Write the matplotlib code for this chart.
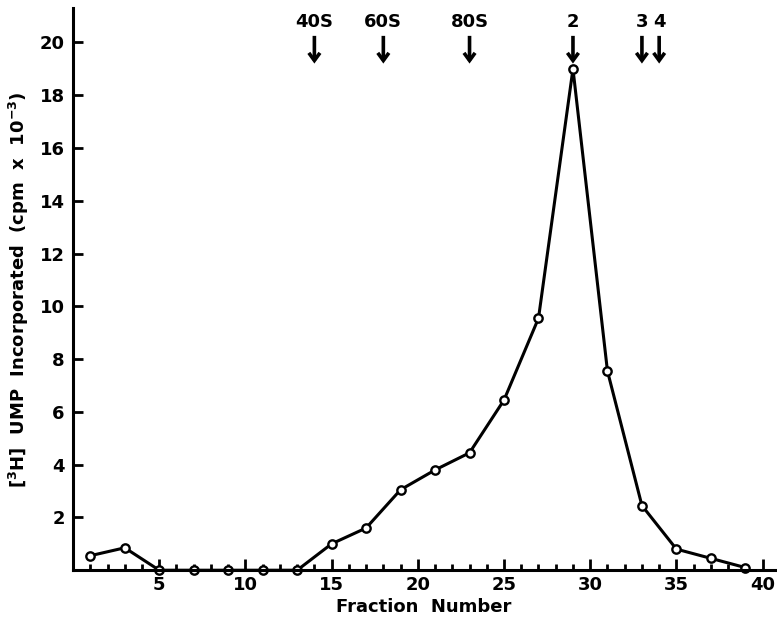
import matplotlib
matplotlib.use("Agg")
import matplotlib.pyplot as plt
from matplotlib.ticker import MultipleLocator

fractions = [1, 3, 5, 7, 9, 11, 13, 15, 17, 19, 21, 23, 25, 27, 29, 31, 33, 35, 37, 39]
ump_cpm = [0.55, 0.85, 0.0, 0.0, 0.0, 0.0, 0.0, 1.0, 1.6, 3.05, 3.8, 4.45, 6.45, 9.55,
           19.0, 7.55, 2.45, 0.8, 0.45, 0.1]

marker_labels = ["40S", "60S", "80S", "2", "3", "4"]
marker_fractions = [14, 18, 23, 29, 33, 34]

x_ticks = [5, 10, 15, 20, 25, 30, 35, 40]
y_ticks = [2, 4, 6, 8, 10, 12, 14, 16, 18, 20]

plt.rcParams['font.family'] = ['DejaVu Sans']
plt.rcParams['font.weight'] = 'bold'

fig = plt.figure(figsize=(7.77, 6.28), dpi=100)
ax = fig.add_axes([0.094, 0.092, 0.903, 0.895])

ax.plot(fractions, ump_cpm, color='black', lw=2.2, marker='o', ms=6,
        mfc='white', mec='black', mew=1.7, clip_on=False, zorder=2)

ax.set_xlim(0, 40.7)
ax.set_ylim(0, 21.3)

ax.spines['top'].set_visible(False)
ax.spines['right'].set_visible(False)
ax.spines['left'].set_linewidth(2.2)
ax.spines['bottom'].set_linewidth(2.2)
ax.spines['left'].set_zorder(3)
ax.spines['bottom'].set_zorder(3)

ax.set_xticks(x_ticks)
ax.set_xticklabels([str(v) for v in x_ticks], fontsize=13, fontweight='bold')
ax.xaxis.set_minor_locator(MultipleLocator(1))
ax.set_yticks(y_ticks)
ax.set_yticklabels([str(v) for v in y_ticks], fontsize=13, fontweight='bold')

ax.tick_params(axis='x', which='major', direction='in', length=8, width=2, pad=4)
ax.tick_params(axis='x', which='minor', direction='in', length=4.5, width=2)
ax.tick_params(axis='y', which='major', direction='in', length=7, width=2, pad=6)

ax.set_xlabel('Fraction  Number', fontsize=13, fontweight='bold', labelpad=3)
ax.set_ylabel('[$^{\\mathbf{3}}$H]  UMP  Incorporated  (cpm  x  10$^{\\mathbf{-3}}$)',
              fontsize=13, fontweight='bold', labelpad=6)

for lab, fr in zip(marker_labels, marker_fractions):
    ax.annotate('', xy=(fr, 19.2), xytext=(fr, 20.25),
                arrowprops=dict(arrowstyle='->,head_length=0.55,head_width=0.4',
                                color='black', lw=2.6, shrinkA=0, shrinkB=0,
                                capstyle='butt', joinstyle='miter'),
                annotation_clip=False)
    ax.text(fr, 20.45, lab, ha='center', va='bottom', fontsize=13, fontweight='bold',
            clip_on=False)

fig.savefig('out.png', dpi=100)
